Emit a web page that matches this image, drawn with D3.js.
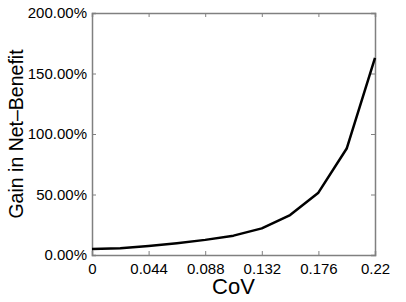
<!DOCTYPE html>
<html>
<head>
<meta charset="utf-8">
<script src="https://cdn.jsdelivr.net/npm/d3@7"></script>
<style>
  body { margin: 0; background: #fff; }
  svg { display: block; font-family: "Liberation Sans", Arial, sans-serif; }
</style>
</head>
<body>
<div id="chart"></div>
<script>
// CoV on x, gain in net-benefit (%) on y
const cov = [0, 0.022, 0.044, 0.066, 0.088, 0.11, 0.132, 0.154, 0.176, 0.198, 0.22];
const gain = [5, 5.5, 7.5, 9.8, 12.5, 16, 22, 33, 51.5, 88, 163];
const xTicks = [0, 0.044, 0.088, 0.132, 0.176, 0.22];
const yTicks = [0, 50, 100, 150, 200];

const width = 406, height = 302;
const margin = { top: 13, right: 31, bottom: 47, left: 92 };
const innerW = width - margin.left - margin.right;
const innerH = height - margin.top - margin.bottom;

const x = d3.scaleLinear().domain([0, 0.22]).range([0, innerW]);
const y = d3.scaleLinear().domain([0, 200]).range([innerH, 0]);

const svg = d3.select('#chart').append('svg')
    .attr('width', width)
    .attr('height', height);

const g = svg.append('g')
    .attr('transform', `translate(${margin.left},${margin.top})`);

const axisColor = '#808080';
const tickLen = 4;

// bottom + top ticks (inward)
g.append('g')
    .attr('transform', `translate(0,${innerH})`)
    .call(d3.axisBottom(x).tickValues(xTicks).tickSize(-tickLen).tickPadding(8)
        .tickFormat(d => d === 0 ? '0' : d3.format('.3~f')(d)));
g.append('g')
    .call(d3.axisTop(x).tickValues(xTicks).tickSize(-tickLen).tickFormat(''));

// left + right ticks (inward)
g.append('g')
    .call(d3.axisLeft(y).tickValues(yTicks).tickSize(-tickLen).tickPadding(5)
        .tickFormat(d => d.toFixed(2) + '%'));
g.append('g')
    .attr('transform', `translate(${innerW},0)`)
    .call(d3.axisRight(y).tickValues(yTicks).tickSize(-tickLen).tickFormat(''));

g.selectAll('.domain').attr('stroke', axisColor).attr('stroke-width', 1.5);
g.selectAll('.tick line').attr('stroke', axisColor);
g.selectAll('.tick text').attr('fill', '#000').style('font-size', '15px');

// the curve
const line = d3.line()
    .x((d, i) => x(cov[i]))
    .y(d => y(d));

g.append('path')
    .datum(gain)
    .attr('fill', 'none')
    .attr('stroke', '#000')
    .attr('stroke-width', 2.5)
    .attr('stroke-linejoin', 'round')
    .attr('d', line);

// axis titles
svg.append('text')
    .attr('x', margin.left + innerW / 2)
    .attr('y', 294)
    .attr('text-anchor', 'middle')
    .style('font-size', '22px')
    .text('CoV');

svg.append('text')
    .attr('transform', `translate(23,${margin.top + innerH / 2}) rotate(-90)`)
    .attr('text-anchor', 'middle')
    .style('font-size', '19.5px')
    .text('Gain in Net\u2013Benefit');
</script>
</body>
</html>
